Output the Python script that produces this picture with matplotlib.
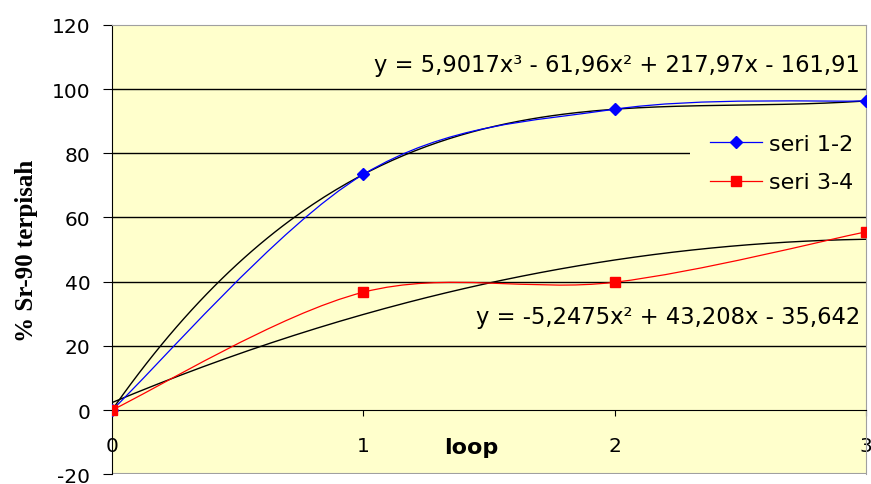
import numpy as np
import matplotlib
matplotlib.use("Agg")
import matplotlib.pyplot as plt
from matplotlib.path import Path
from matplotlib.patches import PathPatch, Rectangle
from matplotlib.lines import Line2D

# data
loop = [0, 1, 2, 3]
seri12 = [0, 73.4, 93.7, 96.3]
seri34 = [0, 36.7, 39.8, 55.5]
eq12 = "y = 5,9017x\u00b3 - 61,96x\u00b2 + 217,97x - 161,91"
eq34 = "y = -5,2475x\u00b2 + 43,208x - 35,642"
yticks = [-20, 0, 20, 40, 60, 80, 100, 120]

bg = "#FFFFCC"
plt.rcParams['font.family'] = ['DejaVu Sans']
plt.rcParams['axes.unicode_minus'] = False


def smooth_path(x, y):
    # excel-style smoothed line: cubic bezier segments through the points
    x = list(x); y = list(y)
    px = [x[0]] + x + [x[-1]]
    py = [y[0]] + y + [y[-1]]
    verts = [(x[0], y[0])]
    codes = [Path.MOVETO]
    for i in range(1, len(px) - 2):
        c1 = (px[i] + (px[i + 1] - px[i - 1]) / 6, py[i] + (py[i + 1] - py[i - 1]) / 6)
        c2 = (px[i + 1] - (px[i + 2] - px[i]) / 6, py[i + 1] - (py[i + 2] - py[i]) / 6)
        verts += [c1, c2, (px[i + 1], py[i + 1])]
        codes += [Path.CURVE4] * 3
    return Path(verts, codes)


fig = plt.figure(figsize=(8.71, 4.85), dpi=100)
ax = fig.add_axes([0.1286, 0.0202, 0.8657, 0.9266])
ax.set_facecolor(bg)
ax.set_xlim(0, 3)
ax.set_ylim(-20, 120)

for v in [20, 40, 60, 80, 100]:
    ax.axhline(v, color='black', lw=1.0, zorder=1)

# trend lines (polynomial fits like excel)
xf = np.linspace(0, 3, 200)
ax.plot(xf, np.polyval(np.polyfit(loop, seri12, 3), xf), color='black', lw=1.0, zorder=3)
ax.plot(xf, np.polyval(np.polyfit(loop, seri34, 2), xf), color='black', lw=1.0, zorder=3)

# smoothed series
ax.add_patch(PathPatch(smooth_path(loop, seri12), fill=False, edgecolor='blue', lw=0.9, zorder=4))
ax.add_patch(PathPatch(smooth_path(loop, seri34), fill=False, edgecolor='red', lw=0.9, zorder=4))
ax.plot(loop, seri12, ls='none', marker='D', ms=6.5, color='blue', zorder=5)
ax.plot(loop, seri34, ls='none', marker='s', ms=7, color='red', zorder=5)

# legend area
ax.add_patch(Rectangle((0.767, 0.59), 0.233, 0.211, transform=ax.transAxes,
                       facecolor=bg, edgecolor='none', zorder=2))
handles = [Line2D([], [], color='blue', lw=0.9, marker='D', ms=6.5),
           Line2D([], [], color='red', lw=0.9, marker='s', ms=7)]
ax.legend(handles, ['seri 1-2', 'seri 3-4'], loc='center left', bbox_to_anchor=(0.793, 0.692),
          frameon=False, fontsize=16, labelspacing=0.82, handlelength=2.35, handletextpad=0.3,
          borderpad=0, borderaxespad=0)

ax.text(2.977, 107.5, eq12, ha='right', va='center', fontsize=16.3, zorder=6)
ax.text(2.977, 29, eq34, ha='right', va='center', fontsize=16.3, zorder=6)

# axes styling
for s in ['top', 'right']:
    ax.spines[s].set_color('#a0a0a0')
ax.spines['left'].set_color('black')
ax.spines['bottom'].set_position(('data', 0))
ax.spines['bottom'].set_color('black')
ax.axhline(-20, color='#a0a0a0', lw=1.5, zorder=1)

ax.set_yticks(yticks)
ax.set_xticks(loop)
ax.tick_params(axis='y', direction='out', length=6.5, pad=9, labelsize=14.5)
ax.tick_params(axis='x', direction='out', length=4.5, pad=14, labelsize=14.5)
ax.text(1.43, -11.5, 'loop', ha='center', va='center', fontsize=16, fontweight='bold')
ax.set_ylabel('% Sr-90 terpisah', family='Liberation Serif', fontsize=18, fontweight='bold',
              labelpad=10)

fig.savefig('out.png', dpi=100)
